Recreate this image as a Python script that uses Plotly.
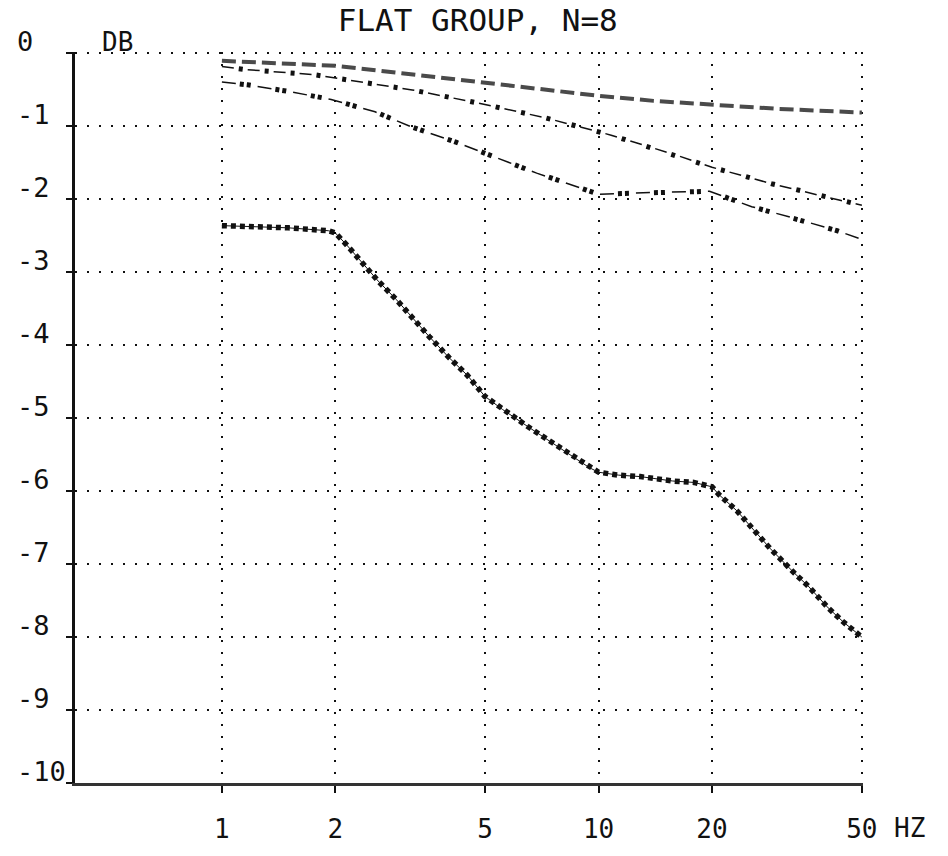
import numpy as np
import plotly.graph_objects as go

# ---- data ----
title_text = "FLAT GROUP, N=8"
x_tick_vals = [1, 2, 5, 10, 20, 50]
x_tick_text = ["1", "2", "5", "10", "20", "50"]
y_tick_vals = [0, -1, -2, -3, -4, -5, -6, -7, -8, -9, -10]
y_tick_text = ["0", "-1", "-2", "-3", "-4", "-5", "-6", "-7", "-8", "-9", "-10"]

freq_a = [1, 2, 3, 5, 7, 10, 14, 20, 30, 50]
db_a = [-0.10, -0.17, -0.27, -0.40, -0.48, -0.58, -0.65, -0.70, -0.76, -0.81]

freq_b = [1, 1.15, 1.75, 2.15, 3.2, 4.8, 7.2, 10.8, 16, 20, 29, 43.5, 50]
db_b = [-0.18, -0.22, -0.29, -0.36, -0.50, -0.68, -0.88, -1.12, -1.39, -1.56, -1.79, -2.01, -2.08]

freq_c = [1, 1.17, 1.5, 1.95, 2.55, 3.2, 4.2, 5.35, 6.85, 8.8, 10, 11.5, 15, 19.7, 25.5, 32.6, 43, 50]
db_c = [-0.39, -0.43, -0.52, -0.63, -0.80, -1.01, -1.22, -1.43, -1.64, -1.83, -1.93, -1.92, -1.90,
        -1.89, -2.10, -2.25, -2.43, -2.55]

freq_d = [1, 1.5, 1.92, 2.0, 2.14, 2.6, 2.9, 3.23, 3.55, 4.01, 4.48, 4.99, 5.56, 6.47, 7.31, 8.49,
          9.47, 10, 11.3, 12.9, 15.7, 17.9, 20, 20.9, 23.3, 25.9, 28.6, 33.2, 36, 40.7, 44.8, 50]
db_d = [-2.36, -2.39, -2.43, -2.46, -2.62, -3.12, -3.37, -3.65, -3.88, -4.17, -4.41, -4.70, -4.88,
        -5.11, -5.29, -5.51, -5.68, -5.74, -5.78, -5.80, -5.86, -5.88, -5.94, -6.05, -6.27, -6.54,
        -6.79, -7.13, -7.30, -7.60, -7.80, -8.00]

FONT = "DejaVu Sans Mono"
INK = "#111111"

fig = go.Figure()

# curve A: thick grey dashes
fig.add_trace(go.Scatter(x=freq_a, y=db_a, mode="lines",
                         line=dict(color="#4a4a4a", width=4, dash="14px,6px"),
                         showlegend=False, hoverinfo="skip"))

# curve B: dash + dot
fig.add_trace(go.Scatter(x=freq_b, y=db_b, mode="lines",
                         line=dict(color=INK, width=1.5, dash="12px,14px"),
                         showlegend=False, hoverinfo="skip"))
fig.add_trace(go.Scatter(x=freq_b, y=db_b, mode="lines",
                         line=dict(color=INK, width=5, dash="0px,17px,4px,5px"),
                         showlegend=False, hoverinfo="skip"))

# curve C: long dash + two dots
fig.add_trace(go.Scatter(x=freq_c, y=db_c, mode="lines",
                         line=dict(color=INK, width=1.5, dash="14px,22px"),
                         showlegend=False, hoverinfo="skip"))
fig.add_trace(go.Scatter(x=freq_c, y=db_c, mode="lines",
                         line=dict(color=INK, width=5, dash="0px,18px,4px,3px,4px,7px"),
                         showlegend=False, hoverinfo="skip"))

# curve D: thin line + dense dots
fig.add_trace(go.Scatter(x=freq_d, y=db_d, mode="lines",
                         line=dict(color=INK, width=1),
                         showlegend=False, hoverinfo="skip"))
fig.add_trace(go.Scatter(x=freq_d, y=db_d, mode="lines",
                         line=dict(color=INK, width=5.5, dash="5px,4px"),
                         showlegend=False, hoverinfo="skip"))

annotations = []
for v, t in zip(y_tick_vals, y_tick_text):
    annotations.append(dict(x=0, xref="paper", xshift=-60, xanchor="left",
                            y=v, yref="y", yanchor="bottom", yshift=-6,
                            text=t, showarrow=False,
                            font=dict(family=FONT, size=27, color=INK)))
annotations.append(dict(x=0.032, xref="paper", xanchor="left",
                        y=0, yref="y", yanchor="bottom", yshift=-6,
                        text="DB", showarrow=False,
                        font=dict(family=FONT, size=26, color=INK)))
annotations.append(dict(x=np.log10(x_tick_vals[-1]), xref="x", xanchor="left", xshift=30,
                        y=0, yref="paper", yanchor="top", yshift=-28,
                        text="HZ", showarrow=False,
                        font=dict(family=FONT, size=26, color=INK)))

fig.update_layout(
    width=948, height=856,
    margin=dict(l=75, r=85, t=52, b=58),
    paper_bgcolor="white", plot_bgcolor="white",
    title=dict(text=title_text, x=0.504, xanchor="center", y=0.977, yanchor="middle",
               font=dict(family=FONT, size=31, color=INK)),
    annotations=annotations,
    xaxis=dict(type="log", range=[-0.39, np.log10(50) + 0.003],
               tickvals=x_tick_vals, ticktext=x_tick_text,
               showgrid=True, gridcolor=INK, gridwidth=1.5, griddash="2px,10px",
               showline=True, linecolor="#333333", linewidth=3,
               ticks="outside", ticklen=7, tickwidth=2, tickcolor=INK,
               ticklabelstandoff=14,
               tickfont=dict(family=FONT, size=26, color=INK),
               zeroline=False, fixedrange=True),
    yaxis=dict(range=[-10, 0.02], tickvals=y_tick_vals, showticklabels=False,
               showgrid=True, gridcolor=INK, gridwidth=1.5, griddash="2px,10px",
               showline=True, linecolor=INK, linewidth=3,
               ticks="outside", ticklen=6, tickwidth=2, tickcolor=INK,
               zeroline=False, fixedrange=True),
)

fig.write_html("out.html")
